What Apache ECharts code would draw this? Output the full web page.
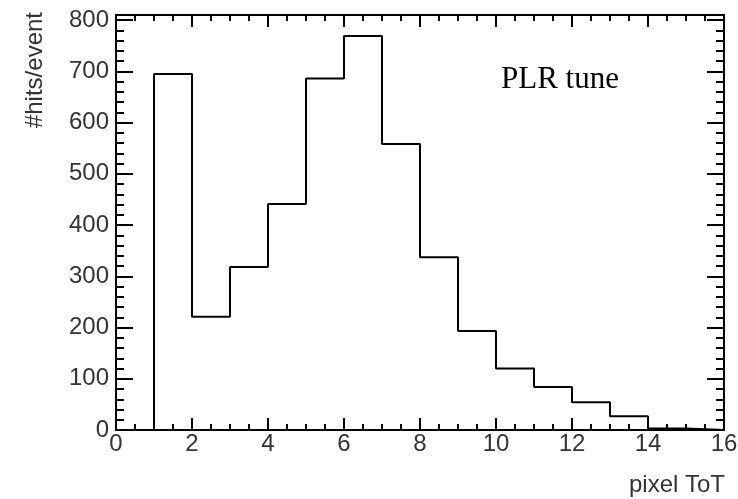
<!DOCTYPE html>
<html>
<head>
<meta charset="utf-8">
<script src="https://cdn.jsdelivr.net/npm/echarts@6/dist/echarts.min.js"></script>
<style>
    html, body { margin: 0; padding: 0; background: #fff; }
    #chart1 { width: 738px; height: 499px; }
</style>
</head>
<body>
<div id="chart1"></div>
<script>
    // histogram bins: lower edge of each bin, and content
    var binLow = [0, 1, 2, 3, 4, 5, 6, 7, 8, 9, 10, 11, 12, 13, 14, 15];
    var binWidth = 1;
    var hitsPerEvent = [0, 695, 221, 318, 441, 686, 769, 558, 337, 193, 120, 84, 54, 27, 3, 0];

    var xMin = 0, xMax = 16;
    var yMin = 0, yMax = 810;

    var chart1 = echarts.init(document.getElementById('chart1'));

    // step outline through the bin edges
    var stepData = [[binLow[0], hitsPerEvent[0]]];
    for (var i = 0; i < binLow.length; i++) {
        stepData.push([binLow[i] + binWidth, hitsPerEvent[i]]);
    }

    var black = '#000';
    var labelFont = {
        fontFamily: 'Liberation Sans, Arial, sans-serif',
        fontSize: 24,
        color: '#333'
    };

    function xAx(pos, labels) {
        return {
            type: 'value', position: pos, min: xMin, max: xMax, interval: 2,
            axisLine: { show: true, onZero: false, lineStyle: { color: black, width: 2 } },
            axisTick: { show: true, inside: true, length: 12, lineStyle: { color: black, width: 2 } },
            minorTick: { show: true, splitNumber: 4, length: 6, lineStyle: { color: black, width: 2 } },
            axisLabel: Object.assign({ show: labels, margin: 2 }, labelFont),
            splitLine: { show: false }
        };
    }

    function yAx(pos, step, len, labels) {
        return {
            type: 'value', position: pos, min: yMin, max: yMax, interval: step,
            axisLine: { show: true, onZero: false, lineStyle: { color: black, width: 2 } },
            axisTick: { show: true, inside: true, length: len, lineStyle: { color: black, width: 2 } },
            axisLabel: Object.assign({ show: labels, margin: 7, showMaxLabel: false }, labelFont),
            splitLine: { show: false }
        };
    }

    var option = {
        backgroundColor: '#fff',
        animation: false,
        grid: {
            left: 116, right: 14, top: 15, bottom: 69,
            outerBoundsMode: 'none'
        },
        xAxis: [xAx('bottom', true), xAx('top', false)],
        yAxis: [
            yAx('left', 100, 17, true),   //主刻度
            yAx('left', 20, 8, false),    //副刻度
            yAx('right', 100, 17, false),
            yAx('right', 20, 8, false)
        ],
        graphic: [
            {
                type: 'text', x: 35, y: 12, rotation: Math.PI / 2,
                style: {
                    text: '#hits/event', align: 'right', verticalAlign: 'middle',
                    fontFamily: 'Liberation Sans, Arial, sans-serif', fontSize: 24, fill: '#333'
                }
            },
            {
                type: 'text', x: 725, y: 485,
                style: {
                    text: 'pixel ToT', align: 'right', verticalAlign: 'middle',
                    fontFamily: 'Liberation Sans, Arial, sans-serif', fontSize: 24, fill: '#333'
                }
            },
            {
                type: 'text', x: 501, y: 80,
                style: {
                    text: 'PLR tune', align: 'left', verticalAlign: 'middle',
                    fontFamily: 'Liberation Serif, Times New Roman, serif', fontSize: 31, fill: '#000'
                }
            }
        ],
        series: [
            {
                name: 'PLR tune',
                type: 'line',
                step: 'start',
                xAxisIndex: 0,
                yAxisIndex: 0,
                data: stepData,
                symbol: 'none',
                lineStyle: { color: black, width: 2 }
            }
        ]
    };

    chart1.setOption(option);
    window.addEventListener('resize', function () {
        chart1.resize();
    });
</script>
</body>
</html>
